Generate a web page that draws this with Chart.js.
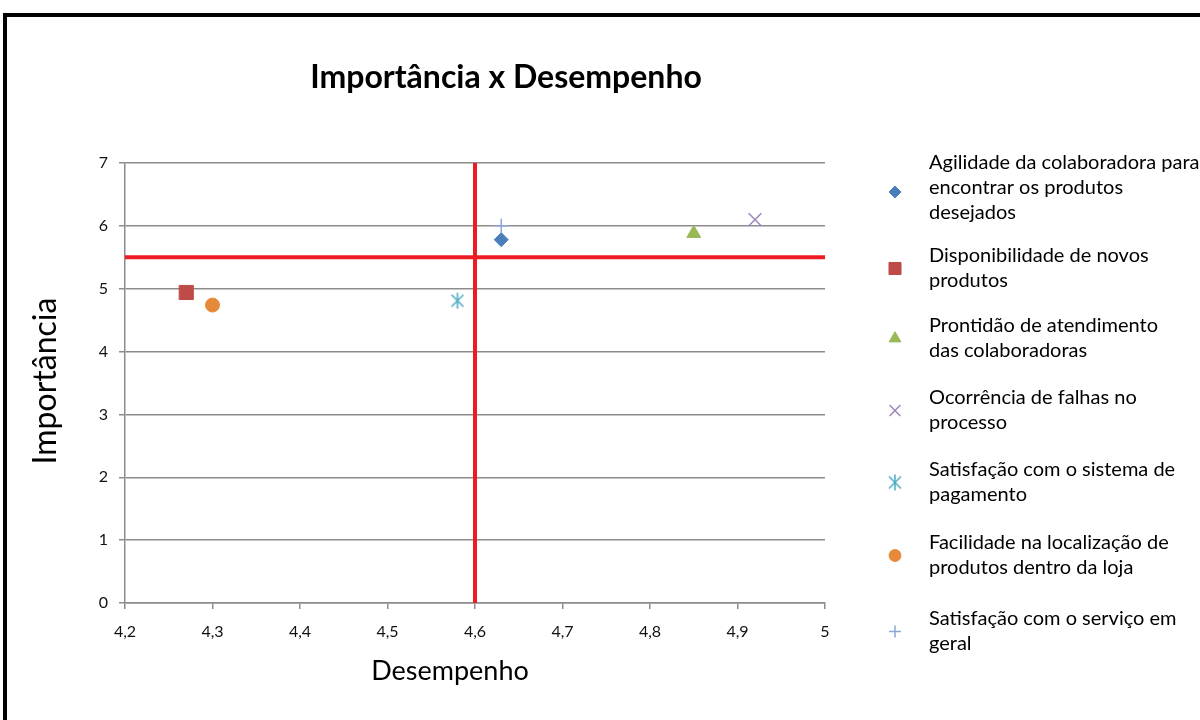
<!DOCTYPE html>
<html lang="pt">
<head>
<meta charset="utf-8">
<title>Importância x Desempenho</title>
<script src="https://cdn.jsdelivr.net/npm/chart.js@4/dist/chart.umd.min.js"></script>
<style>
  html, body { margin: 0; padding: 0; background: #fff; overflow: hidden; }
  #wrap { position: relative; width: 1200px; height: 720px; }
  #frame {
    position: absolute; left: 3px; top: 13px; width: 1300px; height: 800px;
    border-left: 4px solid #000; border-top: 4px solid #000; pointer-events: none;
  }
  canvas { display: block; }
</style>
</head>
<body>
<div id="wrap">
  <canvas id="chart" width="1200" height="720"></canvas>
  <div id="frame"></div>
</div>
<script>
// Series (one point each): performance (x) and importance (y)
const seriesLines = [
  ['Agilidade da colaboradora para', 'encontrar os produtos', 'desejados'],
  ['Disponibilidade de novos', 'produtos'],
  ['Prontidão de atendimento', 'das colaboradoras'],
  ['Ocorrência de falhas no', 'processo'],
  ['Satisfação com o sistema de', 'pagamento'],
  ['Facilidade na localização de', 'produtos dentro da loja'],
  ['Satisfação com o serviço em', 'geral']
];
const desempenho  = [4.63, 4.27, 4.85, 4.92, 4.58, 4.30, 4.63];
const importancia = [5.78, 4.94, 5.88, 6.10, 4.81, 4.74, 6.00];

// Reference lines splitting the quadrants
const mediaDesempenho = 4.6;
const mediaImportancia = 5.5;

// Axis ranges and tick labels
const xTickLabels = ['4,2', '4,3', '4,4', '4,5', '4,6', '4,7', '4,8', '4,9', '5'];
const yTickLabels = ['0', '1', '2', '3', '4', '5', '6', '7'];
const chartTitle = 'Importância x Desempenho';
const xTitle = 'Desempenho';
const yTitle = 'Importância';

const FONT = 'Lato, "Open Sans", sans-serif';

// Asterisk marker (X with a vertical stroke)
function asteriskMarker(color) {
  const c = document.createElement('canvas');
  c.width = 16; c.height = 18;
  const g = c.getContext('2d');
  g.strokeStyle = color; g.lineWidth = 1.5;
  g.beginPath();
  g.moveTo(2, 3); g.lineTo(14, 15);
  g.moveTo(14, 3); g.lineTo(2, 15);
  g.moveTo(8, 1); g.lineTo(8, 17);
  g.stroke();
  return c;
}

const markerStyles = [
  { pointStyle: 'rectRot',  color: '#4A7EBB', radius: 7,  borderWidth: 1 },
  { pointStyle: 'rect',     color: '#BE4B48', radius: 10, borderWidth: 1 },
  { pointStyle: 'triangle', color: '#98B954', radius: 8,  borderWidth: 1 },
  { pointStyle: 'crossRot', color: '#9C86BA', radius: 9,  borderWidth: 1.5 },
  { pointStyle: asteriskMarker('#4BACC6'), color: '#4BACC6', radius: 8, borderWidth: 1 },
  { pointStyle: 'circle',   color: '#E68A3A', radius: 7,  borderWidth: 1 },
  { pointStyle: 'cross',    color: '#8EA5D8', radius: 7,  borderWidth: 1.5 }
];

const pointDatasets = seriesLines.map((lines, i) => ({
  label: lines.join(' '),
  data: [{ x: desempenho[i], y: importancia[i] }],
  pointStyle: markerStyles[i].pointStyle,
  pointRadius: markerStyles[i].radius,
  pointHoverRadius: markerStyles[i].radius,
  pointBackgroundColor: markerStyles[i].color,
  pointBorderColor: markerStyles[i].color,
  pointBorderWidth: markerStyles[i].borderWidth,
  showLine: false
}));

const refLineStyle = {
  showLine: true, borderColor: '#ED1C24', borderWidth: 4,
  pointRadius: 0, pointHoverRadius: 0, fill: false
};
const xMin = 4.2, xMax = 5, yMin = 0, yMax = 7;
const lineDatasets = [
  Object.assign({ label: 'media-importancia', data: [{ x: xMin, y: mediaImportancia }, { x: xMax, y: mediaImportancia }] }, refLineStyle),
  Object.assign({ label: 'media-desempenho', data: [{ x: mediaDesempenho, y: yMin }, { x: mediaDesempenho, y: yMax }] }, refLineStyle)
];

// Titles and the multi-line legend on the right
const annotationPlugin = {
  id: 'annotations',
  afterDraw(chart) {
    const ctx = chart.ctx;
    ctx.save();
    ctx.fillStyle = '#000';
    ctx.textBaseline = 'middle';
    ctx.textAlign = 'center';
    ctx.font = 'bold 32px ' + FONT;
    ctx.fillText(chartTitle, 506, 78);
    ctx.font = '27px ' + FONT;
    ctx.fillText(xTitle, 450, 671);
    ctx.save();
    ctx.translate(46, 381);
    ctx.rotate(-Math.PI / 2);
    ctx.font = '32px ' + FONT;
    ctx.fillText(yTitle, 0, 0);
    ctx.restore();

    // legend
    const blockTops = [163, 256, 326, 398, 470, 543, 619];
    const lineH = 25;
    ctx.textAlign = 'left';
    ctx.font = '20px ' + FONT;
    seriesLines.forEach((lines, i) => {
      const top = blockTops[i];
      lines.forEach((t, k) => ctx.fillText(t, 929, top + k * lineH));
      const cy = top + (lines.length - 1) * lineH / 2 + (lines.length === 3 ? 4 : 0);
      const m = markerStyles[i];
      ctx.fillStyle = m.color;
      ctx.strokeStyle = m.color;
      ctx.lineWidth = m.borderWidth;
      Chart.helpers.drawPoint(ctx, {
        pointStyle: m.pointStyle, radius: m.radius * 0.85, rotation: 0, borderWidth: m.borderWidth
      }, 895, cy);
      ctx.fillStyle = '#000';
    });
    ctx.restore();
  }
};

new Chart(document.getElementById('chart'), {
  type: 'scatter',
  data: { datasets: pointDatasets.concat(lineDatasets) },
  plugins: [annotationPlugin],
  options: {
    responsive: false,
    animation: false,
    layout: { padding: { top: 163, right: 375, bottom: 0, left: 0 } },
    plugins: {
      legend: { display: false },
      title: { display: false },
      tooltip: { enabled: false }
    },
    scales: {
      x: {
        type: 'linear', min: xMin, max: xMax,
        afterFit(scale) { scale.height = 720 - 603; },
        ticks: {
          stepSize: 0.1, padding: 13,
          color: '#111', font: { family: FONT, size: 16 },
          callback: (v, i) => xTickLabels[i]
        },
        grid: { drawOnChartArea: false, drawTicks: true, tickLength: 6, color: '#8C8C8C', lineWidth: 1.5 },
        border: { color: '#8C8C8C', width: 1.5 }
      },
      y: {
        type: 'linear', min: yMin, max: yMax,
        afterFit(scale) { scale.width = 125; },
        ticks: {
          stepSize: 1, padding: 11,
          color: '#111', font: { family: FONT, size: 16 },
          callback: (v, i) => yTickLabels[i]
        },
        grid: { drawTicks: true, tickLength: 6, color: '#8C8C8C', lineWidth: 1.5 },
        border: { color: '#8C8C8C', width: 1.5 }
      }
    }
  }
});
</script>
</body>
</html>
